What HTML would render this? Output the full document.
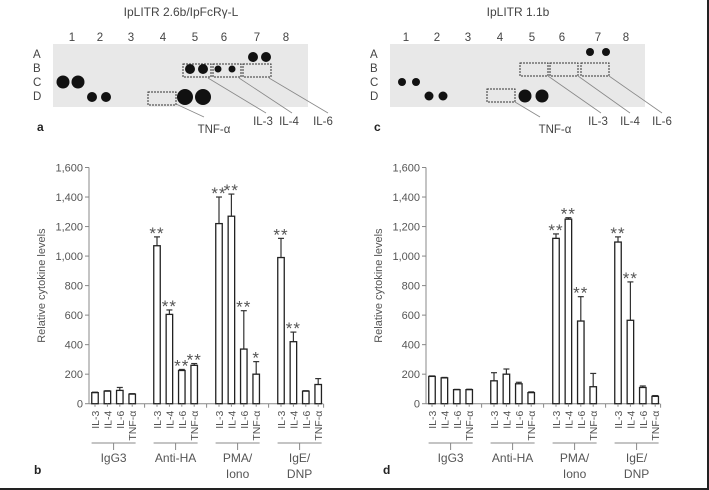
<!DOCTYPE html>
<html><head><meta charset="utf-8"><style>
body{margin:0;background:#fff;width:709px;height:490px;overflow:hidden}
svg{display:block;font-family:"Liberation Sans","DejaVu Sans",sans-serif}
</style></head><body>
<svg id="fig" width="709" height="490" viewBox="0 0 709 490" xmlns="http://www.w3.org/2000/svg">
<line x1="0" y1="489" x2="709" y2="489" stroke="#222" stroke-width="2"/>
<line x1="708" y1="0" x2="708" y2="490" stroke="#222" stroke-width="2"/>
<g id="blots"></g>
<g id="chartB"></g>
<g id="chartD"></g>
</svg>
<script>
const categories=["IL-3","IL-4","IL-6","TNF-α"];
const groups=["IgG3","Anti-HA","PMA/Iono","IgE/DNP"];
const yTicks=[0,200,400,600,800,1000,1200,1400,1600];
const yTickLabels=["0","200","400","600","800","1,000","1,200","1,400","1,600"];
const valuesB=[75,85,90,65, 1070,605,225,260, 1220,1270,370,200, 990,420,85,130];
const errorsB=[78,88,110,68, 1130,635,232,272, 1400,1420,630,285, 1120,485,88,170];
const starsB=["","","","", "**","**","**","**", "**","**","**","*", "**","**","",""];
const valuesD=[185,175,95,95, 155,200,135,75, 1120,1250,560,115, 1095,565,110,50];
const errorsD=[188,178,97,98, 210,235,145,80, 1150,1260,725,205, 1130,825,120,55];
const starsD=["","","","", "","","","", "**","**","**","", "**","**","",""];

const NS="http://www.w3.org/2000/svg";
function mk(parent,tag,attrs,text){const e=document.createElementNS(NS,tag);for(const k in attrs)e.setAttribute(k,attrs[k]);if(text!==undefined)e.textContent=text;parent.appendChild(e);return e;}

function drawChart(g,axisX,firstCenter,endX,values,errors,stars,panel,pl){
  const y0=403.7,yTop=167.5;
  const y=v=>y0-(v/1600)*(y0-yTop);
  const groupStep=62,barStep=12.4,bw=6.5;
  const cx=(gi,ci)=>firstCenter+gi*groupStep+ci*barStep;
  const col="#555";
  let e=mk(g,"line",{x1:axisX,y1:yTop,x2:axisX,y2:y0,stroke:"#888","stroke-width":1});
  
  
  e=mk(g,"line",{x1:axisX,y1:y0,x2:endX,y2:y0,stroke:"#888","stroke-width":1});
  
  
  yTicks.forEach((t,i)=>{
    mk(g,"line",{x1:axisX-4,y1:y(t),x2:axisX,y2:y(t),stroke:"#888"});
    e=mk(g,"text",{x:axisX-6,y:y(t)+4,"text-anchor":"end","font-size":11,fill:col},yTickLabels[i]);
    
    
  });
  e=mk(g,"text",{x:0,y:0,transform:`translate(${axisX-44},${(y0+yTop)/2}) rotate(-90)`,"text-anchor":"middle","font-size":11,fill:col},"Relative cytokine levels");
  
  
  for(let gi=0;gi<4;gi++){
    const gc=(cx(gi,0)+cx(gi,3))/2;
    if(gi>0) mk(g,"line",{x1:gc-groupStep/2,y1:y0,x2:gc-groupStep/2,y2:y0+4,stroke:"#888"});
    if(gi===3) mk(g,"line",{x1:gc+groupStep/2-7,y1:y0,x2:gc+groupStep/2-7,y2:y0+4,stroke:"#888"});
    mk(g,"line",{x1:gc-22,y1:443,x2:gc+22,y2:443,stroke:"#888"});
    mk(g,"line",{x1:gc,y1:443,x2:gc,y2:450,stroke:"#888"});
    const parts=groups[gi].split("/");
    parts.forEach((p,k)=>{
      e=mk(g,"text",{x:gc,y:462+k*16,"text-anchor":"middle","font-size":12,fill:col},p+(k<parts.length-1?"/":""));
      
      
    });
    for(let ci=0;ci<4;ci++){
      const i=gi*4+ci,x=cx(gi,ci);
      e=mk(g,"line",{x1:x,y1:y(values[i]),x2:x,y2:y(errors[i]),stroke:"#333","stroke-width":1.2});
      
      
      mk(g,"line",{x1:x-3,y1:y(errors[i]),x2:x+3,y2:y(errors[i]),stroke:"#333","stroke-width":1.2});
      e=mk(g,"rect",{x:x-bw/2,y:y(values[i]),width:bw,height:y0-y(values[i]),fill:"#fff",stroke:"#222","stroke-width":1.3});
      
      
      mk(g,"line",{x1:x,y1:y0,x2:x,y2:y0+3,stroke:"#888"});
      if(stars[i]){
        e=mk(g,"text",{x:x,y:y(errors[i])+2,"text-anchor":"middle","font-size":17,fill:col,"letter-spacing":"1"},stars[i]);
        
        
      }
      e=mk(g,"text",{x:0,y:0,transform:`translate(${x+4},${y0+7}) rotate(-90)`,"text-anchor":"end","font-size":10.5,fill:col},categories[ci]);
      
      
    }
  }
  e=mk(g,"text",{x:pl,y:474,"font-size":12,"font-weight":"bold",fill:"#222"},panel);
  
  
}
drawChart(document.getElementById("chartB"),89,95,323,valuesB,errorsB,starsB,"b",34);
drawChart(document.getElementById("chartD"),426,432,660,valuesD,errorsD,starsD,"d",383);

const B=document.getElementById("blots");
function blot(ox,title,cols,dots,boxes,labels,lines,panel){
  let e=mk(B,"rect",{x:ox,y:44,width:255,height:63,fill:"#e8e8e8"});
  
  
  e=mk(B,"text",{x:ox+128,y:16,"text-anchor":"middle","font-size":12,fill:"#444"},title);
  
  
  cols.forEach((c,i)=>mk(B,"text",{x:ox+c,y:41,"text-anchor":"middle","font-size":11.5,fill:"#444"},String(i+1)));
  ["A","B","C","D"].forEach((r,i)=>mk(B,"text",{x:ox-20,y:58+i*14,"font-size":11.5,fill:"#444"},r));
  dots.forEach(d=>{e=mk(B,"circle",{cx:ox+d[0],cy:d[1],r:d[2],fill:"#111"});});
  boxes.forEach(b=>{e=mk(B,"rect",{x:ox+b[0],y:b[1],width:28,height:13,fill:"none",stroke:"#333","stroke-width":1,"stroke-dasharray":"2,1"});});
  lines.forEach(l=>{mk(B,"line",{x1:ox+l[0],y1:l[1],x2:ox+l[2],y2:l[3],stroke:"#888","stroke-width":0.8});});
  labels.forEach(l=>{e=mk(B,"text",{x:ox+l[1],y:l[2],"text-anchor":"middle","font-size":11.5,fill:"#444"},l[0]);});
  e=mk(B,"text",{x:ox-16,y:131,"font-size":12,"font-weight":"bold",fill:"#222"},panel);
  
  
}
blot(53,"IpLITR 2.6b/IpFcRγ-L",[19,47,78,110,142,171,204,233],
 [[200,57,5],[213,57,5],[137,69,5],[150,69,5],[165,69,3.5],[179,69,3.5],[10,82,6.5],[25,82,6.5],[39,97,5],[53,97,5],[132,97,8],[150,97,8]],
 [[130,64],[160,64],[190,64],[95,92]],
 [["TNF-α",161,133],["IL-3",210,125],["IL-4",236,125],["IL-6",270,125]],
 [[155,78,213,113],[186,78,239,113],[216,78,275,113],[123,104,151,117]],"a");
blot(390,"IpLITR 1.1b",[16,47,78,110,142,172,208,236],
 [[200,52,4],[216,52,4],[12,82,4],[26,82,4],[39,96,4.5],[53,96,4.5],[135,96,6.5],[152,96,6.5]],
 [[130,63],[160,63],[191,63],[97,89]],
 [["TNF-α",165,133],["IL-3",208,125],["IL-4",240,125],["IL-6",272,125]],
 [[158,76,211,113],[188,76,240,113],[219,76,272,113],[125,102,150,117]],"c");
</script>
</body></html>
